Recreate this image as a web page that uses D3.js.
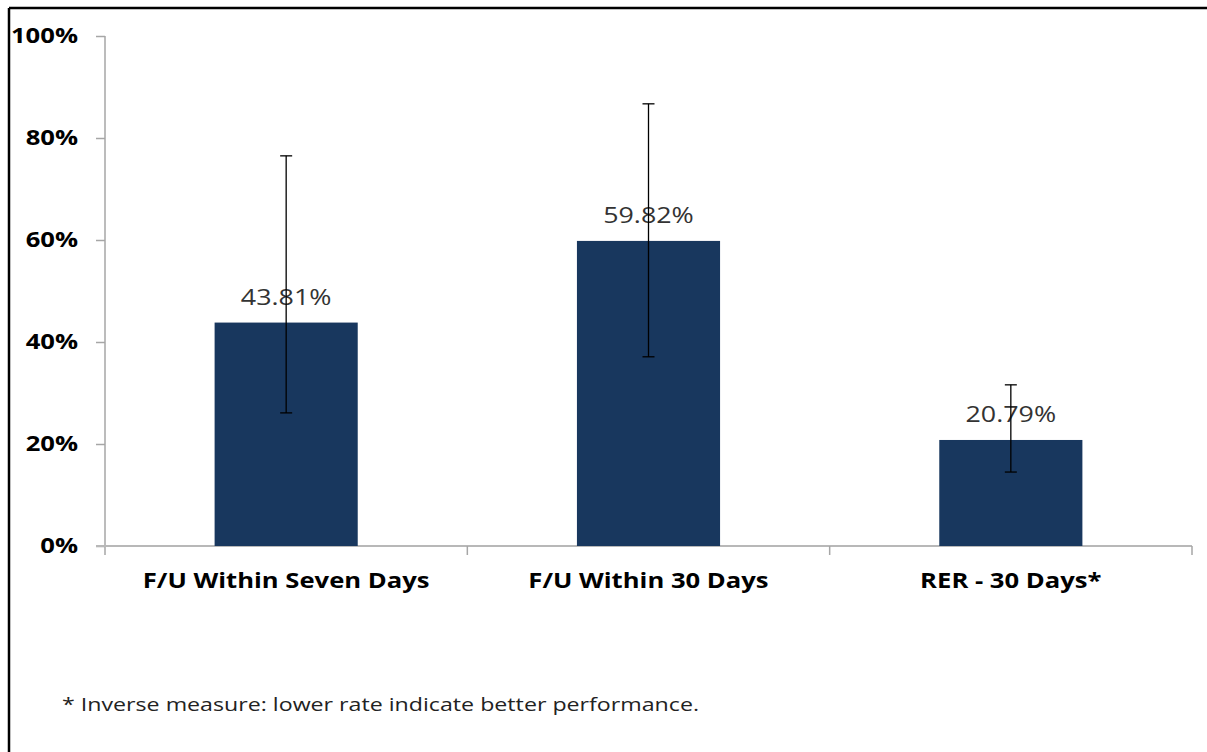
<!DOCTYPE html>
<html><head><meta charset="utf-8">
<script src="https://cdn.jsdelivr.net/npm/d3@7"></script>
<style>body{margin:0;background:#fff}svg{display:block}</style>
</head><body>
<svg id="c" width="1207" height="752"></svg>
<script>
const categories = ["F/U Within Seven Days", "F/U Within 30 Days", "RER - 30 Days*"];
const values = [43.81, 59.82, 20.79];
const errLow = [26.1, 37.1, 14.5];
const errHigh = [76.5, 86.7, 31.6];
const yTicks = [0, 20, 40, 60, 80, 100];
const footnote = "* Inverse measure: lower rate indicate better performance.";

const FONT = "'Open Sans', sans-serif";
const STRETCH = 1.22;
function stretch(sel){
  sel.each(function(){
    const w = this.getComputedTextLength();
    d3.select(this).attr("textLength", w*STRETCH).attr("lengthAdjust","spacingAndGlyphs");
  });
}

const svg = d3.select("#c");
// frame
svg.append("line").attr("x1",9).attr("x2",1207).attr("y1",8).attr("y2",8).attr("stroke","#000").attr("stroke-width",2.5);
svg.append("line").attr("x1",9).attr("x2",9).attr("y1",8).attr("y2",752).attr("stroke","#000").attr("stroke-width",2.5);

const L=105, R=1192, T=36, B=546;
const x = d3.scaleBand().domain(categories).range([L,R]).paddingInner(0.605).paddingOuter(0.3025);
const y = d3.scaleLinear().domain([0,100]).range([B,T]);

const axisColor="#a6a6a6";
// y axis
const ya = svg.append("g").attr("transform",`translate(${L},0)`)
  .call(d3.axisLeft(y).tickValues(yTicks).tickFormat(d=>d+"%").tickSize(9).tickPadding(18));
ya.select(".domain").attr("stroke",axisColor).attr("stroke-width",1.5).attr("d",`M0,${T}V${B+9}`);
ya.selectAll(".tick line").attr("stroke",axisColor).attr("stroke-width",1.5);
ya.selectAll(".tick text").attr("fill","#000").attr("font-family",FONT).attr("font-weight","bold").attr("font-size","21px").call(stretch);

// x axis
const xa = svg.append("g").attr("transform",`translate(0,${B})`);
xa.append("line").attr("x1",L-9).attr("x2",R).attr("y1",0).attr("y2",0).attr("stroke","#b8b8b8").attr("stroke-width",2);
[1,2,3].forEach(i=>{
  const xx = L + i*(R-L)/3;
  xa.append("line").attr("x1",xx).attr("x2",xx).attr("y1",0).attr("y2",9).attr("stroke",axisColor).attr("stroke-width",1.5);
});
xa.selectAll("text.cat").data(categories).join("text").attr("class","cat")
  .attr("x",d=>x(d)+x.bandwidth()/2).attr("y",42).attr("text-anchor","middle")
  .attr("font-family",FONT).attr("font-weight","bold").attr("font-size","21px").attr("fill","#000")
  .text(d=>d).call(stretch);

// bars
svg.selectAll("rect.bar").data(categories).join("rect").attr("class","bar")
  .attr("x",d=>x(d)).attr("width",x.bandwidth())
  .attr("y",(d,i)=>y(values[i])).attr("height",(d,i)=>B-y(values[i]))
  .attr("fill","#18375e");

// labels
svg.selectAll("text.val").data(categories).join("text").attr("class","val")
  .attr("x",d=>x(d)+x.bandwidth()/2).attr("y",(d,i)=>y(values[i])-18)
  .attr("text-anchor","middle").attr("font-family",FONT).attr("font-size","22px").attr("fill","#333")
  .text((d,i)=>values[i].toFixed(2)+"%").call(stretch);

// error bars
const eb = svg.append("g").attr("stroke","#000").attr("stroke-width",1.3);
categories.forEach((c,i)=>{
  const cx = x(c)+x.bandwidth()/2;
  eb.append("line").attr("x1",cx).attr("x2",cx).attr("y1",y(errHigh[i])).attr("y2",y(errLow[i]));
  eb.append("line").attr("x1",cx-6).attr("x2",cx+6).attr("y1",y(errHigh[i])).attr("y2",y(errHigh[i]));
  eb.append("line").attr("x1",cx-6).attr("x2",cx+6).attr("y1",y(errLow[i])).attr("y2",y(errLow[i]));
});

svg.append("text").attr("x",62).attr("y",711).attr("font-family",FONT).attr("font-size","19px").attr("fill","#222")
  .text(footnote).call(stretch);
</script>
</body></html>
